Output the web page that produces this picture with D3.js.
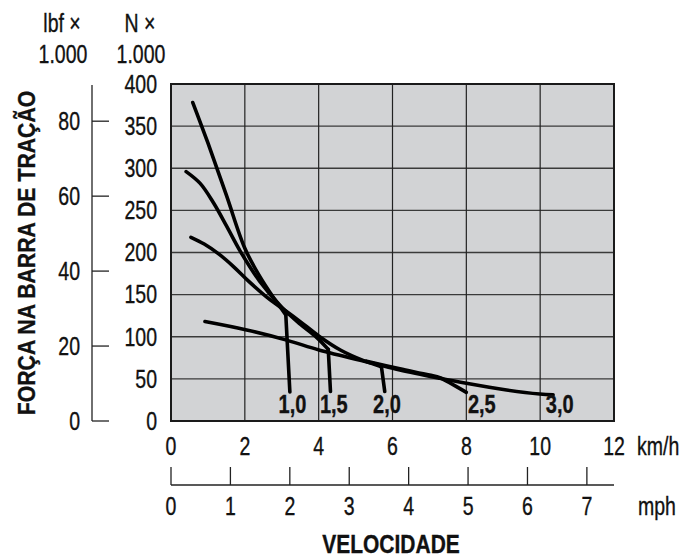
<!DOCTYPE html>
<html>
<head>
<meta charset="utf-8">
<script src="https://cdn.jsdelivr.net/npm/d3@7"></script>
<style>
  body { margin: 0; background: #fff; }
  svg text { font-family: 'Liberation Sans', Arial, sans-serif; fill: #111; stroke: #111; stroke-width: 0.35px; }
</style>
</head>
<body>
<svg></svg>
<script>
 // data: speed in km/h, drawbar force in kN
 var kmhTicks = [0, 2, 4, 6, 8, 10, 12];
 var mphTicks = [0, 1, 2, 3, 4, 5, 6, 7];
 var nTicks = [0, 50, 100, 150, 200, 250, 300, 350, 400];
 var lbfTicks = [0, 20, 40, 60, 80];
 var gears = ["1,0", "1,5", "2,0", "2,5", "3,0"];
 var labelKmh = [3.29, 4.41, 5.85, 8.42, 10.53];

 var curve10 = [[0.59, 378], [1.0, 330], [1.5, 268], [2.0, 205], [2.4, 172], [2.8, 145], [3.11, 126]];
 var curve15 = [[0.41, 296], [0.79, 282], [1.15, 259], [1.51, 231], [1.87, 202], [2.4, 166], [3.0, 135], [3.5, 115], [3.95, 99], [4.26, 85]];
 var curve20 = [[0.54, 218], [0.9, 210], [1.3, 198], [1.7, 183], [2.1, 166], [2.68, 144], [3.13, 130], [3.5, 118], [4.0, 101], [4.6, 84], [5.2, 72], [5.7, 64.5]];
 var curve25 = [[5.30, 71], [6.2, 62], [7.0, 54.5], [7.3, 51], [8.0, 34]];
 var curve30 = [[0.92, 118], [2.05, 108], [3.13, 96], [4.03, 84], [5.47, 68.5], [6.20, 60.5], [7.28, 50.7], [8.00, 44.7], [9.09, 36.8], [9.99, 32], [10.35, 31]];
 var curves = [curve10, curve15, curve20, curve25, curve30];
 // vertical drop at the end of a curve (null = none)
 var drops = [[3.22, 34.4], [4.32, 35], [5.79, 35], null, null];

 var svgWidth = 691, svgHeight = 557;
 var pLeft = 171, pRight = 614, pTop = 84, pBottom = 421;
 var lbPerKn = 1 / 4.44822;
 var kmhPerMph = 1.609344;
 var narrow = 0.78;   // condensed look from Liberation Sans

 var svg = d3.select('svg')
     .attr("width", svgWidth)
     .attr("height", svgHeight);

 var x = d3.scaleLinear().domain([0, 12]).range([pLeft, pRight]);
 var y = d3.scaleLinear().domain([0, 400]).range([pBottom, pTop]);
 var fontSize = 25;

 function place(px, py, rot, sx) {
     return "translate(" + px + "," + py + ")" + (rot ? " rotate(" + rot + ")" : "") + " scale(" + (sx || narrow) + ",1)";
 }

 function label(str, px, py, anchor, size, bold, sx) {
     return svg.append("text").text(str)
         .attr("transform", place(px, py, 0, sx))
         .attr("text-anchor", anchor)
         .attr("font-size", size)
         .attr("font-weight", bold ? "bold" : "normal");
 }

 // plot background
 svg.append("rect")
     .attr("x", pLeft).attr("y", pTop)
     .attr("width", pRight - pLeft).attr("height", pBottom - pTop)
     .attr("fill", "#d2d3d5");

 svg.selectAll(".hgrid")
     .data(nTicks.slice(1, -1))
     .enter().append("line")
     .attr("x1", pLeft).attr("x2", pRight)
     .attr("y1", d => y(d)).attr("y2", d => y(d))
     .attr("stroke", "#3a3a3a").attr("stroke-width", 1.4);

 svg.selectAll(".vgrid")
     .data(kmhTicks.slice(1, -1))
     .enter().append("line")
     .attr("x1", d => x(d)).attr("x2", d => x(d))
     .attr("y1", pTop).attr("y2", pBottom)
     .attr("stroke", "#222").attr("stroke-width", 1.2);

 svg.append("rect")
     .attr("x", pLeft).attr("y", pTop)
     .attr("width", pRight - pLeft).attr("height", pBottom - pTop)
     .attr("fill", "none").attr("stroke", "#1a1a1a").attr("stroke-width", 2);

 // curves
 var line = d3.line()
     .x(d => x(d[0])).y(d => y(d[1]))
     .curve(d3.curveCatmullRom.alpha(0.5));

 svg.selectAll(".curve")
     .data(curves)
     .enter().append("path")
     .attr("d", line)
     .attr("fill", "none")
     .attr("stroke", "#000")
     .attr("stroke-width", 3.6)
     .attr("stroke-linecap", "round")
     .attr("stroke-linejoin", "round");

 drops.forEach(function(d, i) {
     if (!d) return;
     var c = curves[i][curves[i].length - 1];
     svg.append("line")
         .attr("x1", x(c[0])).attr("y1", y(c[1]))
         .attr("x2", x(d[0])).attr("y2", y(d[1]))
         .attr("stroke", "#000").attr("stroke-width", 3.6)
         .attr("stroke-linecap", "round");
 });

 svg.selectAll(".gear")
     .data(gears)
     .enter().append("text")
     .text(d => d)
     .attr("transform", (d, i) => place(x(labelKmh[i]), y(9.5), 0, 0.8))
     .attr("text-anchor", "middle")
     .attr("font-weight", "bold")
     .attr("font-size", 25);

 // N axis labels
 svg.selectAll(".nlab")
     .data(nTicks)
     .enter().append("text")
     .text(d => d)
     .attr("transform", d => place(157, y(d)))
     .attr("dy", "0.35em")
     .attr("text-anchor", "end")
     .attr("font-size", fontSize);

 // lbf axis
 var yl = d3.scaleLinear().domain([0, 400 * lbPerKn]).range([pBottom, pTop]);
 svg.append("line")
     .attr("x1", 92).attr("x2", 92)
     .attr("y1", yl(0)).attr("y2", pTop + 1)
     .attr("stroke", "#222").attr("stroke-width", 1.3);
 svg.selectAll(".lbtick")
     .data(lbfTicks)
     .enter().append("line")
     .attr("x1", 92).attr("x2", 109)
     .attr("y1", d => yl(d)).attr("y2", d => yl(d))
     .attr("stroke", "#222").attr("stroke-width", 1.3);
 svg.selectAll(".lblab")
     .data(lbfTicks)
     .enter().append("text")
     .text(d => d)
     .attr("transform", d => place(80, yl(d)))
     .attr("dy", "0.35em")
     .attr("text-anchor", "end")
     .attr("font-size", fontSize);

 label("lbf \u00d7", 62, 32, "middle", fontSize);
 label("1.000", 63, 63, "middle", fontSize);
 label("N \u00d7", 140, 32, "middle", fontSize);
 label("1.000", 141, 63, "middle", fontSize);

 svg.append("text")
     .text("FORÇA NA BARRA DE TRAÇÃO")
     .attr("transform", place(35, 253, -90, 0.886))
     .attr("text-anchor", "middle")
     .attr("font-weight", "bold")
     .attr("font-size", 24);

 // km/h labels
 svg.selectAll(".kmh")
     .data(kmhTicks)
     .enter().append("text")
     .text(d => d)
     .attr("transform", d => place(x(d), 446))
     .attr("dy", "0.35em")
     .attr("text-anchor", "middle")
     .attr("font-size", fontSize);
 label("km/h", 637, 455, "start", fontSize);

 // mph axis
 var xm = d3.scaleLinear().domain([0, 12 / kmhPerMph]).range([pLeft, pRight]);
 svg.append("line")
     .attr("x1", xm(0)).attr("x2", pRight)
     .attr("y1", 485).attr("y2", 485)
     .attr("stroke", "#222").attr("stroke-width", 1.3);
 svg.selectAll(".mtick")
     .data(mphTicks)
     .enter().append("line")
     .attr("x1", d => xm(d)).attr("x2", d => xm(d))
     .attr("y1", 467).attr("y2", 485)
     .attr("stroke", "#222").attr("stroke-width", 1.3);
 svg.selectAll(".mlab")
     .data(mphTicks)
     .enter().append("text")
     .text(d => d)
     .attr("transform", d => place(xm(d), 506))
     .attr("dy", "0.35em")
     .attr("text-anchor", "middle")
     .attr("font-size", fontSize);
 label("mph", 638, 515, "start", fontSize);

 label("VELOCIDADE", 391, 553, "middle", 25, true, 0.84);
</script>
</body>
</html>
